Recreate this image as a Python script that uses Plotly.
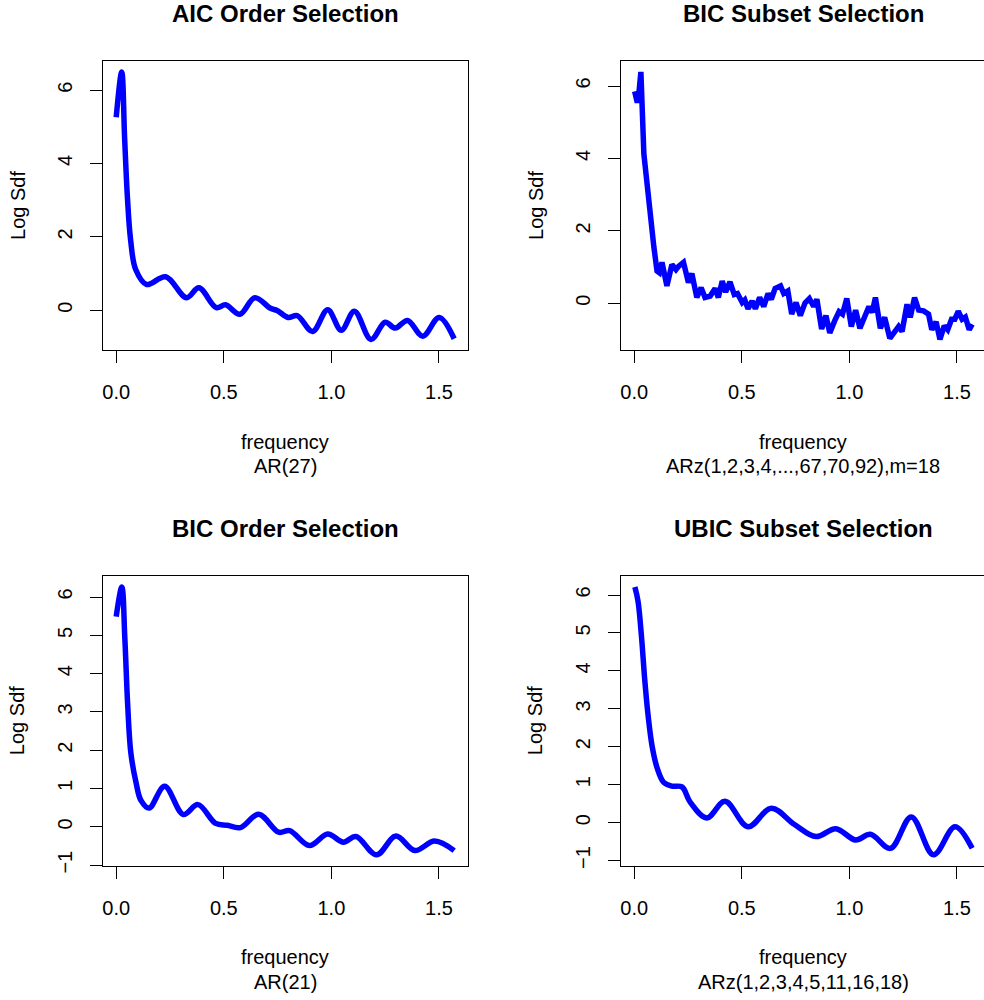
import math
import plotly.graph_objects as go

# Log spectral density estimates over frequency 0..pi/2 for four AR fits

# AIC order selection, AR(27)
aic_freq = [0.0, 0.0255, 0.039, 0.052, 0.067, 0.0905, 0.1415, 0.23, 0.327, 0.384,
            0.465, 0.508, 0.575, 0.644, 0.717, 0.748, 0.799, 0.841, 0.913, 0.983,
            1.046, 1.107, 1.184, 1.25, 1.297, 1.354, 1.425, 1.501, 1.5708]
aic_logsdf = [5.26, 6.50, 4.70, 3.08, 1.91, 1.11, 0.70, 0.91, 0.34, 0.61,
              0.07, 0.145, -0.11, 0.34, 0.05, -0.01, -0.20, -0.15, -0.58, 0.01,
              -0.55, -0.03, -0.80, -0.33, -0.49, -0.28, -0.71, -0.20, -0.78]

# BIC subset selection, ARz(1,2,3,4,...,67,70,92), m=18
bics_freq = [0.002, 0.0143, 0.022, 0.031, 0.0448, 0.060, 0.0755, 0.091, 0.106, 0.117,
             0.129, 0.152, 0.175, 0.194, 0.206, 0.229, 0.252, 0.268, 0.291, 0.311,
             0.329, 0.353, 0.376, 0.391, 0.409, 0.425, 0.445, 0.465, 0.480, 0.502,
             0.514, 0.529, 0.548, 0.563, 0.583, 0.602, 0.622, 0.637, 0.655, 0.680,
             0.695, 0.714, 0.732, 0.752, 0.772, 0.794, 0.814, 0.834, 0.849, 0.871,
             0.891, 0.909, 0.932, 0.952, 0.968, 0.988, 1.009, 1.029, 1.049, 1.071,
             1.091, 1.106, 1.121, 1.144, 1.164, 1.188, 1.209, 1.229, 1.245, 1.268,
             1.283, 1.303, 1.322, 1.345, 1.368, 1.383, 1.403, 1.421, 1.441, 1.457,
             1.475, 1.490, 1.506, 1.524, 1.539, 1.557, 1.5708]
bics_logsdf = [5.85, 5.54, 5.82, 6.39, 4.13, 3.22, 2.30, 1.57, 0.89, 0.84,
               1.13, 0.48, 1.07, 0.93, 1.02, 1.13, 0.57, 0.82, 0.16, 0.43,
               0.16, 0.20, 0.41, 0.16, 0.61, 0.31, 0.59, 0.24, 0.27, 0.02,
               0.09, -0.15, 0.06, -0.15, 0.16, -0.09, 0.27, 0.11, 0.41, 0.48,
               0.27, 0.34, -0.30, 0.02, -0.34, 0.01, 0.13, -0.09, 0.11, -0.71,
               -0.34, -0.82, -0.48, -0.23, -0.30, 0.13, -0.64, -0.19, -0.69, -0.39,
               -0.09, -0.25, 0.16, -0.69, -0.39, -0.97, -0.80, -0.64, -0.78, -0.03,
               -0.39, 0.16, -0.19, -0.21, -0.30, -0.73, -0.51, -1.00, -0.62, -0.73,
               -0.44, -0.44, -0.22, -0.44, -0.38, -0.73, -0.58]

# BIC order selection, AR(21)
bic_freq = [0.0, 0.026, 0.040, 0.053, 0.068, 0.092, 0.115, 0.153, 0.225, 0.312,
            0.380, 0.462, 0.516, 0.577, 0.662, 0.755, 0.806, 0.898, 0.983, 1.056,
            1.114, 1.21, 1.30, 1.388, 1.48, 1.5708]
bic_logsdf = [5.49, 6.26, 4.93, 3.22, 1.93, 1.16, 0.69, 0.49, 1.06, 0.32,
              0.58, 0.09, 0.04, -0.02, 0.33, -0.14, -0.10, -0.49, -0.19, -0.40,
              -0.25, -0.73, -0.24, -0.62, -0.37, -0.62]

# UBIC subset selection, ARz(1,2,3,4,5,11,16,18)
ubic_freq = [0.003, 0.0176, 0.034, 0.049, 0.065, 0.083, 0.106, 0.137, 0.175, 0.222,
             0.26, 0.337, 0.422, 0.529, 0.637, 0.745, 0.845, 0.937, 1.029, 1.098,
             1.191, 1.288, 1.391, 1.491, 1.5708]
ubic_logsdf = [6.21, 5.84, 4.89, 3.76, 2.80, 2.02, 1.45, 1.06, 0.96, 0.94,
               0.54, 0.12, 0.56, -0.11, 0.38, -0.05, -0.37, -0.16, -0.46, -0.31,
               -0.68, 0.15, -0.85, -0.11, -0.68]

panels = [
    dict(title="AIC Order Selection", sub="AR(27)", x=aic_freq, y=aic_logsdf,
         dtick=2, shape="spline", col=0, row=0),
    dict(title="BIC Subset Selection", sub="ARz(1,2,3,4,...,67,70,92),m=18",
         x=bics_freq, y=bics_logsdf, dtick=2, shape="linear", col=1, row=0),
    dict(title="BIC Order Selection", sub="AR(21)", x=bic_freq, y=bic_logsdf,
         dtick=1, shape="spline", col=0, row=1),
    dict(title="UBIC Subset Selection", sub="ARz(1,2,3,4,5,11,16,18)",
         x=ubic_freq, y=ubic_logsdf, dtick=1, shape="spline", col=1, row=1),
]

W, H = 984, 1000
BOX_W = 365.0
# plot-box pixel positions (left, top, bottom)
box_left = [102.7, 620.7]
box_top = [61.7, 581.0]
box_bottom = [353.0, 872.5]

FONT = "Liberation Sans, Arial, Helvetica, sans-serif"

fig = go.Figure()
annotations = []

half_pi = math.pi / 2
xlo = -0.04 * half_pi
xhi = half_pi * 1.04

for i, p in enumerate(panels):
    n = "" if i == 0 else str(i + 1)
    xa, ya = "x" + n, "y" + n
    fig.add_trace(go.Scatter(
        x=p["x"], y=p["y"], mode="lines", xaxis=xa, yaxis=ya,
        line=dict(color="#0000FF", width=5.5, shape=p["shape"]),
        hoverinfo="skip", showlegend=False,
    ))

    L = box_left[p["col"]]
    R = min(L + BOX_W, W)
    T = box_top[p["row"]]
    B = box_bottom[p["row"]]
    # right-hand boxes are clipped by the page edge; keep the same x scale
    frac = (R - L) / BOX_W
    x_range = [xlo, xlo + frac * (xhi - xlo)]

    ymin, ymax = min(p["y"]), max(p["y"])
    pad = 0.04 * (ymax - ymin)
    y_range = [ymin - pad, ymax + pad]

    axis_common = dict(
        showline=True, linecolor="black", linewidth=1,
        ticks="outside", ticklen=12, tickwidth=1, tickcolor="black",
        showgrid=False, zeroline=False,
        tickfont=dict(family=FONT, size=20, color="black"),
    )
    fig.layout["xaxis" + n] = dict(
        axis_common, domain=[L / W, R / W], range=x_range, anchor=ya,
        tickmode="array", tickvals=[0, 0.5, 1.0, 1.5],
        ticktext=["0.0", "0.5", "1.0", "1.5"], mirror=True,
        ticklabelstandoff=12,
    )
    fig.layout["yaxis" + n] = dict(
        axis_common, domain=[1 - B / H, 1 - T / H], range=y_range, anchor=xa,
        dtick=p["dtick"], tick0=0, tickangle=-90,
        mirror=(p["col"] == 0), ticklabelstandoff=10,
    )

    cx = (L + L + BOX_W) / 2
    annotations += [
        dict(text="<b>" + p["title"] + "</b>", x=cx / W, y=1 - (T - 48.5) / H,
             font=dict(size=24)),
        dict(text="frequency", x=cx / W, y=1 - (B + 92.5) / H, font=dict(size=20)),
        dict(text=p["sub"], x=cx / W, y=1 - (B + 117) / H, font=dict(size=20)),
        dict(text="Log Sdf", x=(L - 85.5) / W, y=1 - (T + B) / 2 / H,
             textangle=-90, font=dict(size=20)),
    ]

for a in annotations:
    a.update(xref="paper", yref="paper", showarrow=False,
             xanchor="center", yanchor="middle")
    a["font"].update(family=FONT, color="black")

fig.update_layout(
    width=W, height=H, margin=dict(l=0, r=0, t=0, b=0),
    paper_bgcolor="white", plot_bgcolor="white",
    annotations=annotations,
)

fig.write_html("out.html")
